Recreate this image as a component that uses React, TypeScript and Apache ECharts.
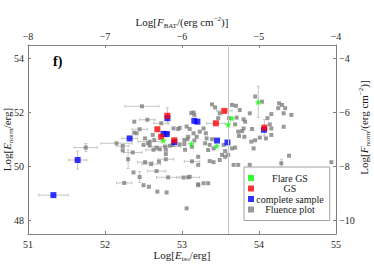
import React, { useEffect, useRef } from 'react';
import * as echarts from 'echarts';

const FONT = "'Liberation Serif', 'Times New Roman', serif";

// tick values
const xTicks = [51, 52, 53, 54, 55];
const topTicks = [-8, -7, -6, -5, -4];
const yTicks = [48, 50, 52, 54];
const rightTicks = [-10, -8, -6, -4];
const fluenceCut = 53.6;

// [log Eiso, log Enorm, x error, y error]
const flareGS = [
  [53.99, 52.39, 0, 0.58],
  [53.65, 51.79, 0, 0],
  [53.6, 51.56, 0, 0],
  [53.45, 50.76, 0, 0],
  [53.12, 50.84, 0, 0],
  [52.76, 50.96, 0, 0],
];

const gs = [
  [52.81, 51.88, 0, 0.3],
  [52.68, 51.38, 0, 0],
  [52.73, 51.1, 0, 0],
  [52.9, 50.97, 0, 0],
  [53.44, 51.6, 0.12, 0],
  [53.55, 52.06, 0.1, 0],
  [54.07, 51.44, 0, 0.3],
];

const complete = [
  [51.33, 48.94, 0.19, 0],
  [51.645, 50.24, 0.12, 0.33],
  [52.32, 51.04, 0.1, 0],
  [52.81, 51.79, 0, 0],
  [52.76, 51.21, 0, 0],
  [52.8, 51.2, 0, 0],
  [52.9, 50.9, 0, 0],
  [53.16, 51.69, 0, 0],
  [53.2, 51.66, 0, 0],
  [53.455, 50.96, 0, 0],
  [53.59, 50.89, 0, 0],
  [54.065, 51.36, 0, 0],
];

const fluence = [
  [51.75, 50.7, 0.15, 0.15], [52.15, 50.86, 0.2, 0], [52.23, 50.76, 0.08, 0],
  [52.23, 50.6, 0, 0], [52.3, 50.27, 0, 0.35], [52.25, 49.39, 0.1, 0],
  [52.48, 52.23, 0.22, 0], [52.38, 51.66, 0, 0], [52.55, 51.73, 0.1, 0],
  [52.73, 51.6, 0.1, 0], [52.36, 50.52, 0.12, 0], [52.37, 49.78, 0, 0],
  [52.45, 49.61, 0, 0.2], [52.52, 50.16, 0.1, 0], [52.6, 50.09, 0.12, 0],
  [52.7, 50.18, 0, 0], [52.67, 49.83, 0.12, 0], [52.79, 50.46, 0, 0],
  [52.79, 50.27, 0.1, 0], [52.82, 49.6, 0.15, 0], [52.5, 49.31, 0, 0],
  [52.57, 49.25, 0, 0], [52.68, 49.07, 0, 0], [52.8, 49.04, 0, 0],
  [53.06, 48.45, 0, 0], [52.38, 51.25, 0, 0], [52.45, 51.38, 0.1, 0],
  [52.52, 51.04, 0, 0], [52.58, 50.92, 0.15, 0], [52.58, 50.78, 0, 0],
  [52.63, 50.62, 0.1, 0], [52.71, 50.64, 0, 0], [52.78, 50.74, 0.2, 0],
  [52.88, 50.8, 0, 0], [52.95, 51.39, 0, 0], [52.89, 51.41, 0, 0],
  [52.82, 51.23, 0, 0], [53.12, 51.98, 0, 0], [53.15, 52.0, 0, 0],
  [53.06, 51.48, 0, 0], [53.1, 51.39, 0, 0], [53.15, 51.23, 0, 0],
  [53.19, 51.1, 0, 0], [53.16, 50.96, 0, 0], [53.07, 51.01, 0, 0],
  [53.03, 50.83, 0, 0], [53.13, 50.19, 0.1, 0], [53.21, 50.36, 0, 0],
  [53.08, 49.6, 0.15, 0], [53.02, 49.59, 0, 0], [53.21, 49.34, 0, 0],
  [52.97, 51.43, 0, 0], [52.62, 51.17, 0, 0], [52.64, 50.98, 0, 0],
  [52.41, 51.23, 0, 0], [52.56, 50.86, 0, 0], [52.5, 50.8, 0, 0],
  [52.67, 50.7, 0, 0], [52.79, 50.62, 0, 0], [52.84, 50.77, 0, 0],
  [52.97, 50.82, 0, 0], [53.03, 50.98, 0, 0], [53.08, 51.1, 0, 0],
  [53.04, 50.62, 0, 0], [53.13, 50.73, 0, 0], [53.39, 52.3, 0, 0],
  [53.43, 52.19, 0, 0], [53.65, 52.28, 0, 0], [53.7, 52.25, 0, 0],
  [53.75, 52.09, 0, 0], [53.49, 51.97, 0, 0], [53.47, 51.79, 0, 0],
  [53.61, 51.79, 0, 0], [53.71, 51.81, 0, 0], [53.8, 51.75, 0, 0],
  [53.82, 51.66, 0, 0], [53.88, 51.97, 0, 0], [53.95, 52.59, 0, 0],
  [54.04, 52.4, 0, 0], [54.16, 51.94, 0, 0], [54.11, 51.79, 0, 0],
  [54.14, 51.56, 0, 0], [54.16, 51.41, 0, 0], [54.16, 51.17, 0, 0],
  [54.09, 51.04, 0, 0], [54.01, 51.07, 0, 0], [53.95, 50.97, 0, 0],
  [53.9, 50.92, 0, 0], [53.93, 50.67, 0, 0], [53.8, 51.41, 0, 0],
  [53.78, 51.31, 0, 0], [53.73, 51.29, 0, 0], [53.74, 51.13, 0, 0],
  [53.81, 51.1, 0, 0], [53.91, 51.39, 0, 0], [53.69, 51.56, 0, 0],
  [53.23, 51.29, 0, 0], [53.31, 51.23, 0, 0], [53.28, 51.41, 0, 0],
  [53.32, 51.04, 0, 0], [53.39, 51.01, 0, 0], [53.3, 50.86, 0, 0],
  [53.36, 50.8, 0, 0], [53.41, 50.67, 0, 0], [53.34, 50.61, 0, 0],
  [53.54, 50.8, 0, 0], [53.65, 50.67, 0, 0], [53.69, 50.7, 0, 0],
  [53.56, 50.57, 0, 0], [53.52, 50.43, 0, 0], [53.6, 50.43, 0, 0],
  [54.26, 52.34, 0, 0], [54.3, 52.28, 0, 0], [54.25, 52.16, 0, 0],
  [54.34, 52.16, 0, 0], [54.32, 51.97, 0, 0], [54.42, 51.91, 0, 0],
  [54.32, 51.47, 0, 0], [54.39, 50.4, 0, 0], [53.16, 51.91, 0, 0],
  [53.21, 50.06, 0, 0], [53.36, 50.2, 0, 0], [53.41, 50.16, 0, 0],
  [53.49, 50.24, 0, 0], [53.56, 50.36, 0, 0], [53.67, 50.06, 0, 0],
  [53.73, 50.06, 0, 0], [53.88, 50.06, 0, 0], [54.29, 50.12, 0, 0.15],
  [54.94, 50.16, 0, 0], [53.1, 49.62, 0, 0], [53.21, 49.31, 0, 0],
  [53.28, 49.38, 0, 0], [53.34, 49.38, 0, 0],
];

const legendNames = ['Flare GS', 'GS', 'complete sample', 'Fluence plot'];

const STAR = 'path://M50,0 L61,35 L98,35 L68,57 L79,91 L50,70 L21,91 L32,57 L2,35 L39,35 Z';

const richName = {
  n: { fontFamily: FONT, fontSize: 11, lineHeight: 14, color: '#1a1a1a' },
  i: { fontFamily: FONT, fontSize: 11, lineHeight: 14, fontStyle: 'italic', color: '#1a1a1a' },
  s: { fontFamily: FONT, fontSize: 7, lineHeight: 7, verticalAlign: 'bottom', color: '#1a1a1a' },
  p: { fontFamily: FONT, fontSize: 7, lineHeight: 7, verticalAlign: 'top', color: '#1a1a1a' },
};

const minus = (v: number) => String(v).replace('-', '\u2212');

const axisCommon = {
  type: 'value' as const,
  axisLine: { show: true, onZero: false, lineStyle: { color: '#7f7f7f', width: 1 } },
  axisTick: { show: true, inside: true, length: 3, lineStyle: { color: '#7f7f7f' } },
  splitLine: { show: false },
  nameLocation: 'middle' as const,
  nameMoveOverlap: false,
  nameTextStyle: { rich: richName },
};

const labelStyle = { fontFamily: FONT, fontSize: 10, color: '#262626', formatter: minus };

export default function App() {
  const ref = useRef<HTMLDivElement>(null);
  useEffect(() => {
    if (!ref.current) return;
    const chart = echarts.init(ref.current, undefined, { renderer: 'svg' });
    const xy = (arr: number[][]) => arr.map((p) => [p[0], p[1]]);
    const errData = [...fluence, ...complete, ...gs, ...flareGS].filter((p) => p[2] > 0 || p[3] > 0);
    chart.setOption({
      animation: false,
      backgroundColor: '#ffffff',
      grid: { left: 28, top: 45, width: 308, height: 189, containLabel: false, outerBoundsMode: 'none' },
      xAxis: [
        {
          ...axisCommon,
          position: 'bottom',
          min: 51, max: 55, interval: 1,
          axisLabel: { ...labelStyle, margin: 5 },
          name: '{n|Log[}{i|E}{s|iso}{n|/erg]}',
          nameGap: 14,
        },
        {
          ...axisCommon,
          position: 'top',
          min: -8, max: -4, interval: 1,
          axisLabel: { ...labelStyle, margin: 4 },
          name: '{n|Log[}{i|F}{s|BAT}{n|/(erg cm}{p|\u22122}{n|)]}',
          nameGap: 16,
        },
      ],
      yAxis: [
        {
          ...axisCommon,
          position: 'left',
          min: 47.5, max: 54.5,
          axisLabel: { ...labelStyle, margin: 4, customValues: yTicks },
          axisTick: { ...axisCommon.axisTick, customValues: yTicks },
          name: '{n|Log[}{i|E}{s|norm}{n|/erg]}',
          nameRotate: 90,
          nameGap: 14,
        },
        {
          ...axisCommon,
          position: 'right',
          min: -10.5, max: -3.5,
          axisLabel: { ...labelStyle, margin: 3, customValues: rightTicks },
          axisTick: { ...axisCommon.axisTick, customValues: rightTicks },
          name: '{n|Log[}{i|F}{s|norm}{n|/(erg cm}{p|\u22122}{n|)]}',
          nameRotate: 90,
          nameGap: 21,
          nameTextStyle: { rich: richName, padding: [0, 0, 0, 24] },
        },
      ],
      legend: {
        orient: 'vertical',
        left: 244,
        top: 167,
        padding: [6, 6, 6, 4],
        itemGap: 0.5,
        itemWidth: 6,
        itemHeight: 6,
        borderColor: '#a0a0a0',
        borderWidth: 1,
        backgroundColor: '#ffffff',
        selectedMode: false,
        data: legendNames.map((n) => ({ name: n, icon: 'rect' })),
        formatter: (name: string) => `{c|${name}}`,
        textStyle: {
          fontFamily: FONT,
          fontSize: 10,
          color: '#1a1a1a',
          rich: { c: { width: 62, align: 'center', fontFamily: FONT, fontSize: 10, lineHeight: 10 } },
        },
      },
      graphic: [
        {
          type: 'text',
          left: 53,
          top: 54,
          style: { text: 'f)', font: `bold 14px ${FONT}`, fill: '#000' },
        },
      ],
      series: [
        {
          type: 'custom',
          name: 'errorbars',
          xAxisIndex: 0,
          yAxisIndex: 0,
          z: 1,
          silent: true,
          encode: { x: 0, y: 1 },
          data: errData,
          renderItem: (params: any, api: any) => {
            const x = api.value(0);
            const y = api.value(1);
            const xe = api.value(2);
            const ye = api.value(3);
            const style = { stroke: '#c4c4c4', lineWidth: 1, fill: 'none' };
            const children: any[] = [];
            const cap = 1.5;
            if (xe > 0) {
              const a = api.coord([x - xe, y]);
              const b = api.coord([x + xe, y]);
              children.push({ type: 'line', shape: { x1: a[0], y1: a[1], x2: b[0], y2: b[1] }, style });
              children.push({ type: 'line', shape: { x1: a[0], y1: a[1] - cap, x2: a[0], y2: a[1] + cap }, style });
              children.push({ type: 'line', shape: { x1: b[0], y1: b[1] - cap, x2: b[0], y2: b[1] + cap }, style });
            }
            if (ye > 0) {
              const a = api.coord([x, y - ye]);
              const b = api.coord([x, y + ye]);
              children.push({ type: 'line', shape: { x1: a[0], y1: a[1], x2: b[0], y2: b[1] }, style });
              children.push({ type: 'line', shape: { x1: a[0] - cap, y1: a[1], x2: a[0] + cap, y2: a[1] }, style });
              children.push({ type: 'line', shape: { x1: b[0] - cap, y1: b[1], x2: b[0] + cap, y2: b[1] }, style });
            }
            return { type: 'group', children };
          },
        },
        {
          type: 'scatter',
          name: 'Fluence plot',
          xAxisIndex: 0,
          yAxisIndex: 0,
          symbol: 'rect',
          symbolSize: 4,
          itemStyle: { color: '#808080' },
          z: 2,
          data: xy(fluence),
          markLine: {
            silent: true,
            symbol: ['none', 'none'],
            label: { show: false },
            lineStyle: { color: '#c4c4c4', width: 1, type: 'solid' },
            data: [{ xAxis: fluenceCut }],
          },
        },
        {
          type: 'scatter',
          name: 'complete sample',
          xAxisIndex: 0,
          yAxisIndex: 0,
          symbol: 'rect',
          symbolSize: 6,
          itemStyle: { color: '#0000ff' },
          z: 3,
          data: xy(complete),
        },
        {
          type: 'scatter',
          name: 'GS',
          xAxisIndex: 0,
          yAxisIndex: 0,
          symbol: 'rect',
          symbolSize: 6,
          itemStyle: { color: '#ff0000' },
          z: 4,
          data: xy(gs),
        },
        {
          type: 'scatter',
          name: 'Flare GS',
          xAxisIndex: 0,
          yAxisIndex: 0,
          symbol: STAR,
          symbolSize: 7,
          itemStyle: { color: '#00ff00' },
          z: 5,
          data: xy(flareGS),
        },
      ],
    });
    return () => chart.dispose();
  }, []);
  return (
    <div
      ref={ref}
      style={{ position: 'absolute', left: 0, top: 0, width: 374, height: 265, background: '#fff' }}
    />
  );
}
